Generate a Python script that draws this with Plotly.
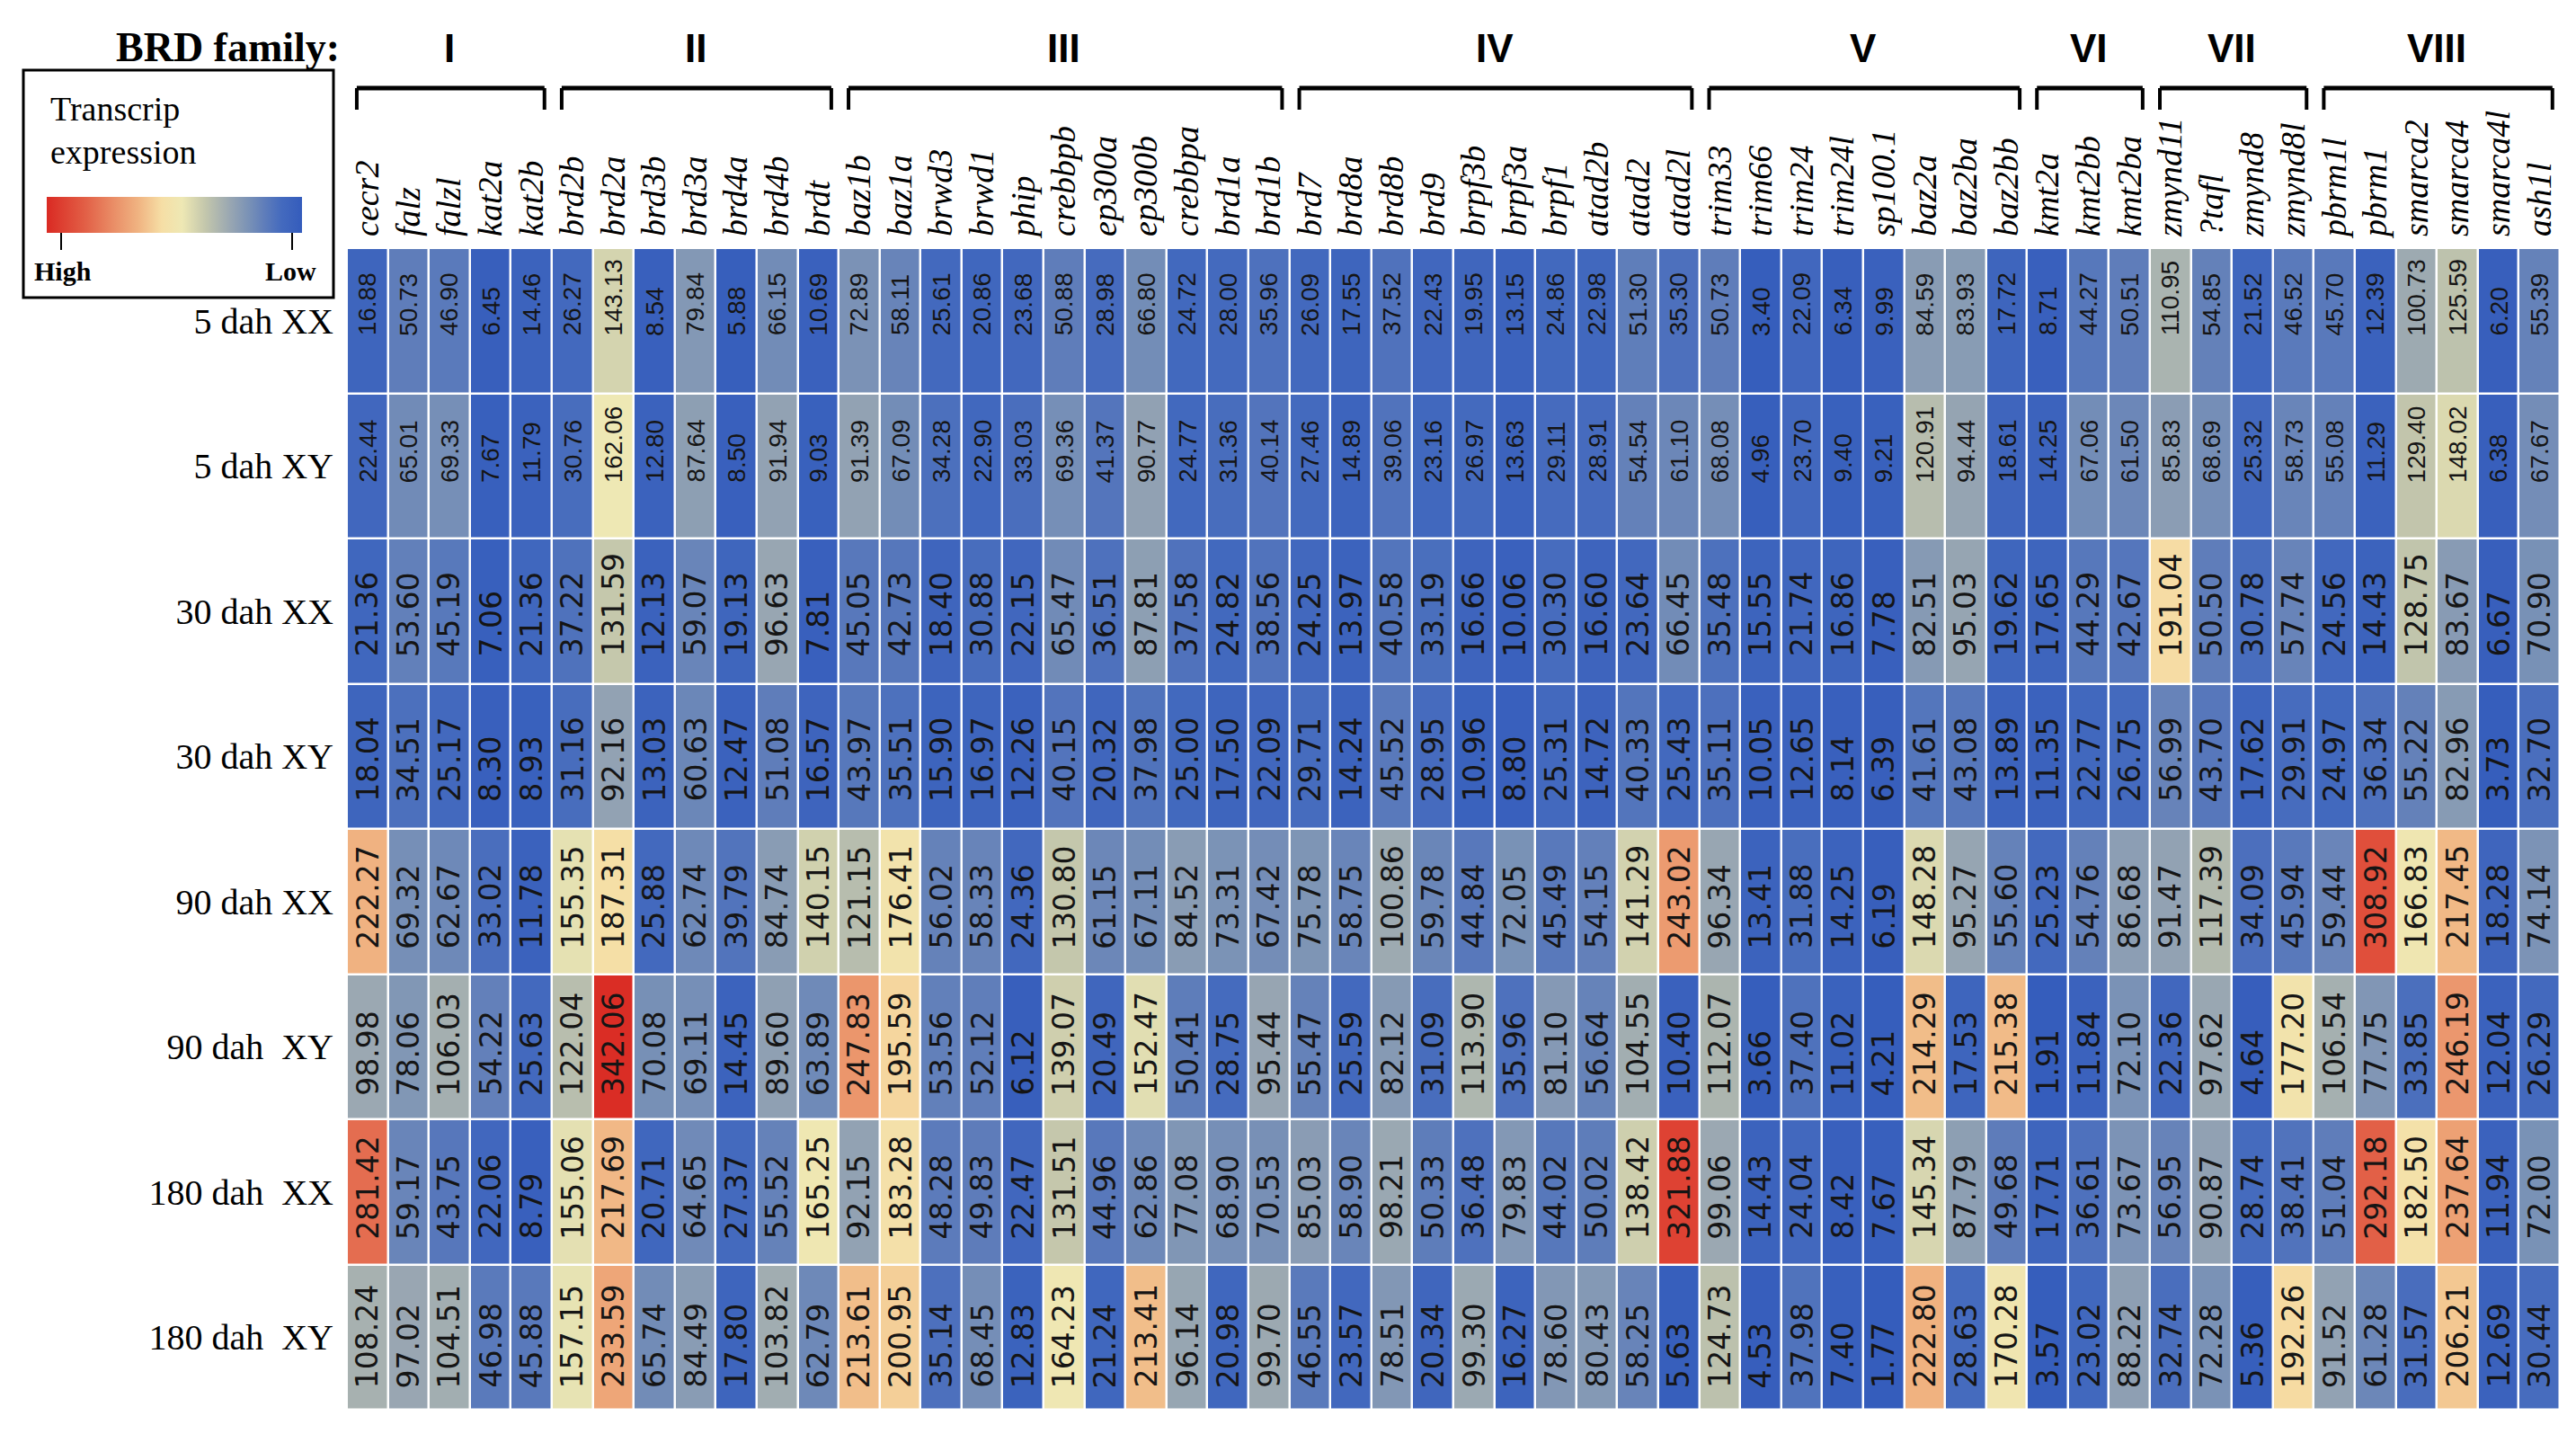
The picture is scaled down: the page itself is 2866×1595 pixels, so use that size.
import plotly.graph_objects as go

# ---------------- data ----------------
genes = ["cecr2", "falz", "falzl", "kat2a", "kat2b",
         "brd2b", "brd2a", "brd3b", "brd3a", "brd4a", "brd4b", "brdt",
         "baz1b", "baz1a", "brwd3", "brwd1", "phip", "crebbpb", "ep300a", "ep300b", "crebbpa", "brd1a", "brd1b",
         "brd7", "brd8a", "brd8b", "brd9", "brpf3b", "brpf3a", "brpf1", "atad2b", "atad2", "atad2l",
         "trim33", "trim66", "trim24", "trim24l", "sp100.1", "baz2a", "baz2ba", "baz2bb",
         "kmt2a", "kmt2bb", "kmt2ba",
         "zmynd11", "?tafl", "zmynd8", "zmynd8l",
         "pbrm1l", "pbrm1", "smarca2", "smarca4", "smarca4l", "ash1l"]
family_names = ["I", "II", "III", "IV", "V", "VI", "VII", "VIII"]
family_sizes = [5, 7, 11, 10, 8, 3, 4, 6]
samples = ["5 dah XX", "5 dah XY", "30 dah XX", "30 dah XY", "90 dah XX",
           "90 dah\u00a0 XY", "180 dah\u00a0 XX", "180 dah\u00a0 XY"]

dah5_XX = [16.88, 50.73, 46.90, 6.45, 14.46,
           26.27, 143.13, 8.54, 79.84, 5.88, 66.15, 10.69,
           72.89, 58.11, 25.61, 20.86, 23.68, 50.88, 28.98, 66.80, 24.72, 28.00, 35.96,
           26.09, 17.55, 37.52, 22.43, 19.95, 13.15, 24.86, 22.98, 51.30, 35.30,
           50.73, 3.40, 22.09, 6.34, 9.99, 84.59, 83.93, 17.72,
           8.71, 44.27, 50.51,
           110.95, 54.85, 21.52, 46.52,
           45.70, 12.39, 100.73, 125.59, 6.20, 55.39]
dah5_XY = [22.44, 65.01, 69.33, 7.67, 11.79,
           30.76, 162.06, 12.80, 87.64, 8.50, 91.94, 9.03,
           91.39, 67.09, 34.28, 22.90, 33.03, 69.36, 41.37, 90.77, 24.77, 31.36, 40.14,
           27.46, 14.89, 39.06, 23.16, 26.97, 13.63, 29.11, 28.91, 54.54, 61.10,
           68.08, 4.96, 23.70, 9.40, 9.21, 120.91, 94.44, 18.61,
           14.25, 67.06, 61.50,
           85.83, 68.69, 25.32, 58.73,
           55.08, 11.29, 129.40, 148.02, 6.38, 67.67]
dah30_XX = [21.36, 53.60, 45.19, 7.06, 21.36,
            37.22, 131.59, 12.13, 59.07, 19.13, 96.63, 7.81,
            45.05, 42.73, 18.40, 30.88, 22.15, 65.47, 36.51, 87.81, 37.58, 24.82, 38.56,
            24.25, 13.97, 40.58, 33.19, 16.66, 10.06, 30.30, 16.60, 23.64, 66.45,
            35.48, 15.55, 21.74, 16.86, 7.78, 82.51, 95.03, 19.62,
            17.65, 44.29, 42.67,
            191.04, 50.50, 30.78, 57.74,
            24.56, 14.43, 128.75, 83.67, 6.67, 70.90]
dah30_XY = [18.04, 34.51, 25.17, 8.30, 8.93,
            31.16, 92.16, 13.03, 60.63, 12.47, 51.08, 16.57,
            43.97, 35.51, 15.90, 16.97, 12.26, 40.15, 20.32, 37.98, 25.00, 17.50, 22.09,
            29.71, 14.24, 45.52, 28.95, 10.96, 8.80, 25.31, 14.72, 40.33, 25.43,
            35.11, 10.05, 12.65, 8.14, 6.39, 41.61, 43.08, 13.89,
            11.35, 22.77, 26.75,
            56.99, 43.70, 17.62, 29.91,
            24.97, 36.34, 55.22, 82.96, 3.73, 32.70]
dah90_XX = [222.27, 69.32, 62.67, 33.02, 11.78,
            155.35, 187.31, 25.88, 62.74, 39.79, 84.74, 140.15,
            121.15, 176.41, 56.02, 58.33, 24.36, 130.80, 61.15, 67.11, 84.52, 73.31, 67.42,
            75.78, 58.75, 100.86, 59.78, 44.84, 72.05, 45.49, 54.15, 141.29, 243.02,
            96.34, 13.41, 31.88, 14.25, 6.19, 148.28, 95.27, 55.60,
            25.23, 54.76, 86.68,
            91.47, 117.39, 34.09, 45.94,
            59.44, 308.92, 166.83, 217.45, 18.28, 74.14]
dah90_XY = [98.98, 78.06, 106.03, 54.22, 25.63,
            122.04, 342.06, 70.08, 69.11, 14.45, 89.60, 63.89,
            247.83, 195.59, 53.56, 52.12, 6.12, 139.07, 20.49, 152.47, 50.41, 28.75, 95.44,
            55.47, 25.59, 82.12, 31.09, 113.90, 35.96, 81.10, 56.64, 104.55, 10.40,
            112.07, 3.66, 37.40, 11.02, 4.21, 214.29, 17.53, 215.38,
            1.91, 11.84, 72.10,
            22.36, 97.62, 4.64, 177.20,
            106.54, 77.75, 33.85, 246.19, 12.04, 26.29]
dah180_XX = [281.42, 59.17, 43.75, 22.06, 8.79,
             155.06, 217.69, 20.71, 64.65, 27.37, 55.52, 165.25,
             92.15, 183.28, 48.28, 49.83, 22.47, 131.51, 44.96, 62.86, 77.08, 68.90, 70.53,
             85.03, 58.90, 98.21, 50.33, 36.48, 79.83, 44.02, 50.02, 138.42, 321.88,
             99.06, 14.43, 24.04, 8.42, 7.67, 145.34, 87.79, 49.68,
             17.71, 36.61, 73.67,
             56.95, 90.87, 28.74, 38.41,
             51.04, 292.18, 182.50, 237.64, 11.94, 72.00]
dah180_XY = [108.24, 97.02, 104.51, 46.98, 45.88,
             157.15, 233.59, 65.74, 84.49, 17.80, 103.82, 62.79,
             213.61, 200.95, 35.14, 68.45, 12.83, 164.23, 21.24, 213.41, 96.14, 20.98, 99.70,
             46.55, 23.57, 78.51, 20.34, 99.30, 16.27, 78.60, 80.43, 58.25, 5.63,
             124.73, 4.53, 37.98, 7.40, 1.77, 222.80, 28.63, 170.28,
             3.57, 23.02, 88.22,
             32.74, 72.28, 5.36, 192.26,
             91.52, 61.28, 31.57, 206.21, 12.69, 30.44]

z = [dah5_XX, dah5_XY, dah30_XX, dah30_XY, dah90_XX, dah90_XY, dah180_XX, dah180_XY]

# ---------------- style ----------------
W, H = 2866, 1595
L, R, T, B = 378, 26, 268, 35
PW, PH = W - L - R, H - T - B

def px_x(p):
    return (p - L) / PW

def px_y(p):
    return (H - B - p) / PH

scale = [
    [0.00, "rgb(52,92,188)"],
    [0.08, "rgb(68,106,190)"],
    [0.15, "rgb(96,126,186)"],
    [0.21, "rgb(122,146,182)"],
    [0.28, "rgb(152,166,178)"],
    [0.38, "rgb(196,199,172)"],
    [0.47, "rgb(238,232,180)"],
    [0.55, "rgb(246,222,165)"],
    [0.64, "rgb(240,180,130)"],
    [0.73, "rgb(234,145,105)"],
    [0.85, "rgb(226,95,70)"],
    [1.00, "rgb(218,42,35)"],
]
rev_scale = [[round(1 - s, 4), c] for s, c in reversed(scale)]
ZMAX = 345

SERIF = "Liberation Serif, Times New Roman, serif"
SANS = "Liberation Sans, Arial, sans-serif"
WIDE_SANS = "DejaVu Sans, Liberation Sans, sans-serif"
NUM_FONT = "Liberation Sans Narrow, Liberation Sans, Arial, sans-serif"

fig = go.Figure()
fig.add_trace(go.Heatmap(
    z=z, x=list(range(len(genes))), y=list(range(len(samples))),
    colorscale=scale, zmin=0, zmax=ZMAX, showscale=False,
    xgap=2.5, ygap=2.5, hoverinfo="skip",
))

# legend gradient bar (High -> Low)
fig.add_trace(go.Scatter(
    x=[None], y=[None], mode="markers", showlegend=False, hoverinfo="skip",
    marker=dict(color=[0], cmin=0, cmax=ZMAX, colorscale=rev_scale, showscale=True,
                colorbar=dict(orientation="h", x=px_x(186), xanchor="center",
                              y=px_y(231), yanchor="middle", len=284, lenmode="pixels",
                              thickness=40, thicknessmode="pixels", showticklabels=False,
                              ticks="", outlinewidth=0, xpad=0, ypad=0)),
))

annotations = []
shapes = []

# cell values (rows 0-1 compact text, lower rows stretched text as in the figure)
text_bottom_px = [62, 60, 28, 28, 26, 24, 26, 22]
text_font = [(SANS, 28), (SANS, 28)] + [(WIDE_SANS, 33)] * 6
for r, row in enumerate(z):
    fam, fs = text_font[r]
    for c, v in enumerate(row):
        annotations.append(dict(
            x=c, y=r + 0.5, xref="x", yref="y", text=f"{v:.2f}", textangle=-90,
            showarrow=False, xanchor="center", yanchor="bottom", yshift=text_bottom_px[r],
            font=dict(family=fam, size=fs, color="#151515")))

# family brackets and labels
start = 0
for name, size in zip(family_names, family_sizes):
    x0 = start - 0.5 + 0.24
    x1 = start + size - 0.5 - 0.18
    yh, yv = px_y(90), px_y(114)
    shapes.append(dict(type="line", xref="x", yref="paper", x0=x0, x1=x1, y0=yh, y1=yh,
                       line=dict(color="black", width=5)))
    for xv in (x0, x1):
        shapes.append(dict(type="line", xref="x", yref="paper", x0=xv, x1=xv, y0=yh, y1=yv,
                           line=dict(color="black", width=4)))
    annotations.append(dict(x=start + (size - 1) / 2, y=px_y(45), xref="x", yref="paper",
                            text=f"<b>{name}</b>", showarrow=False, xanchor="center",
                            yanchor="middle",
                            font=dict(family=NUM_FONT, size=44, color="black")))
    start += size

annotations.append(dict(x=px_x(372), y=px_y(44), xref="paper", yref="paper",
                        text="<b>BRD family:</b>", showarrow=False, xanchor="right",
                        yanchor="middle", font=dict(family=SERIF, size=46, color="black")))

# legend box
shapes.append(dict(type="rect", xref="paper", yref="paper", x0=px_x(18), x1=px_x(363),
                   y0=px_y(323), y1=px_y(70), line=dict(color="black", width=3)))
annotations.append(dict(x=px_x(46), y=px_y(113), xref="paper", yref="paper", text="Transcrip",
                        showarrow=False, xanchor="left", yanchor="middle",
                        font=dict(family=SERIF, size=38, color="black")))
annotations.append(dict(x=px_x(46), y=px_y(161), xref="paper", yref="paper", text="expression",
                        showarrow=False, xanchor="left", yanchor="middle",
                        font=dict(family=SERIF, size=38, color="black")))
annotations.append(dict(x=px_x(62), y=px_y(293), xref="paper", yref="paper", text="<b>High</b>",
                        showarrow=False, xanchor="center", yanchor="middle",
                        font=dict(family=SERIF, size=30, color="black")))
annotations.append(dict(x=px_x(315), y=px_y(293), xref="paper", yref="paper", text="<b>Low</b>",
                        showarrow=False, xanchor="center", yanchor="middle",
                        font=dict(family=SERIF, size=30, color="black")))
for tx in (60, 317):
    shapes.append(dict(type="line", xref="paper", yref="paper", x0=px_x(tx), x1=px_x(tx),
                       y0=px_y(251), y1=px_y(270), line=dict(color="black", width=2)))

fig.update_layout(
    width=W, height=H, margin=dict(l=L, r=R, t=T, b=B),
    paper_bgcolor="white", plot_bgcolor="white",
    annotations=annotations, shapes=shapes, showlegend=False,
    xaxis=dict(side="top", tickmode="array", tickvals=list(range(len(genes))),
               ticktext=[f"<i>{g}</i>" for g in genes], tickangle=-90,
               range=[-0.5, len(genes) - 0.5], showgrid=False, zeroline=False,
               ticks="", ticklabelstandoff=12, showline=False,
               tickfont=dict(family=SERIF, size=38, color="black")),
    yaxis=dict(tickmode="array", tickvals=list(range(len(samples))), ticktext=samples,
               range=[len(samples) - 0.5, -0.5], showgrid=False, zeroline=False,
               ticks="", ticklabelstandoff=14, showline=False,
               tickfont=dict(family=SERIF, size=40, color="black")),
)

fig.write_html("out.html")
